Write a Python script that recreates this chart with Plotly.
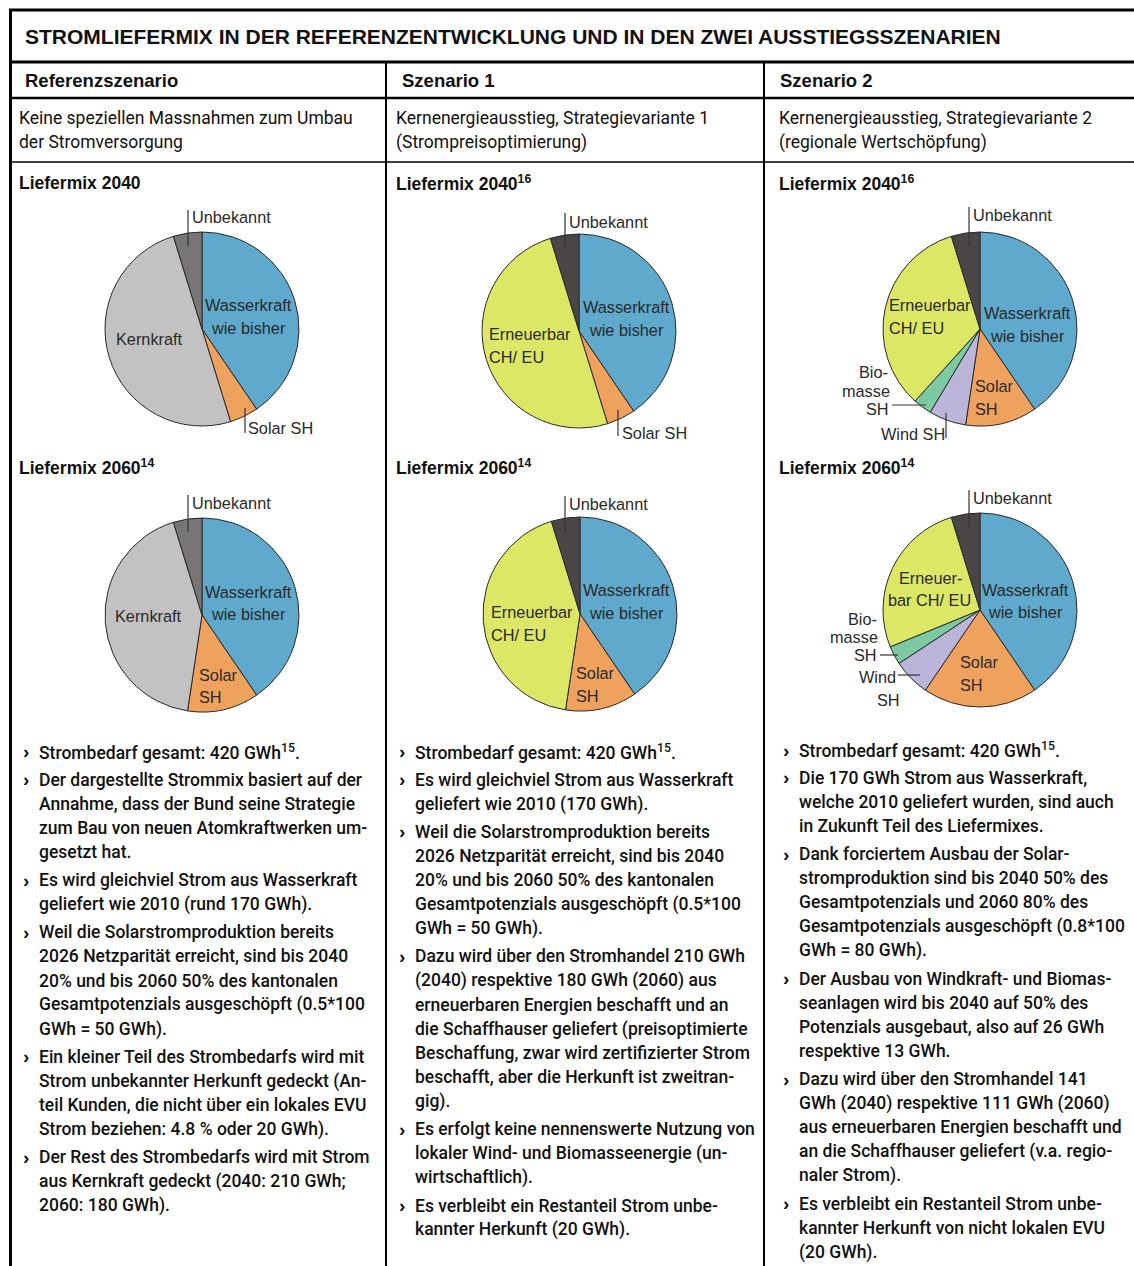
import plotly.graph_objects as go

W, H = 1134, 1266

# ---------------- data ----------------
labels_ref = ["Wasserkraft wie bisher", "Solar SH", "Kernkraft", "Unbekannt"]
ref_2040 = [170, 20, 210, 20]
ref_2060 = [170, 50, 180, 20]

labels_s1 = ["Wasserkraft wie bisher", "Solar SH", "Erneuerbar CH/EU", "Unbekannt"]
s1_2040 = [170, 20, 210, 20]
s1_2060 = [170, 50, 180, 20]

labels_s2 = ["Wasserkraft wie bisher", "Solar SH", "Wind SH", "Biomasse SH", "Erneuerbar CH/EU", "Unbekannt"]
s2_2040 = [170, 50, 26, 13, 141, 20]
s2_2060 = [170, 80, 26, 13, 111, 20]

title = "STROMLIEFERMIX IN DER REFERENZENTWICKLUNG UND IN DEN ZWEI AUSSTIEGSSZENARIEN"
col_heads = ["Referenzszenario", "Szenario 1", "Szenario 2"]
col_desc = [
    ["Keine speziellen Massnahmen zum Umbau", "der Stromversorgung"],
    ["Kernenergieausstieg, Strategievariante 1", "(Strompreisoptimierung)"],
    ["Kernenergieausstieg, Strategievariante 2", "(regionale Wertschöpfung)"],
]
mix_heads_2040 = ["Liefermix 2040", "Liefermix 2040<sup>16</sup>", "Liefermix 2040<sup>16</sup>"]
mix_heads_2060 = ["Liefermix 2060<sup>14</sup>", "Liefermix 2060<sup>14</sup>", "Liefermix 2060<sup>14</sup>"]

bullets = [
    [
        ["Strombedarf gesamt: 420 GWh<sup>15</sup>."],
        ["Der dargestellte Strommix basiert auf der", "Annahme, dass der Bund seine Strategie",
         "zum Bau von neuen Atomkraftwerken um-", "gesetzt hat."],
        ["Es wird gleichviel Strom aus Wasserkraft", "geliefert wie 2010 (rund 170 GWh)."],
        ["Weil die Solarstromproduktion bereits", "2026 Netzparität erreicht, sind bis 2040",
         "20% und bis 2060 50% des kantonalen", "Gesamtpotenzials ausgeschöpft (0.5*100", "GWh = 50 GWh)."],
        ["Ein kleiner Teil des Strombedarfs wird mit", "Strom unbekannter Herkunft gedeckt (An-",
         "teil Kunden, die nicht über ein lokales EVU", "Strom beziehen: 4.8 % oder 20 GWh)."],
        ["Der Rest des Strombedarfs wird mit Strom", "aus Kernkraft gedeckt (2040: 210 GWh;", "2060: 180 GWh)."],
    ],
    [
        ["Strombedarf gesamt: 420 GWh<sup>15</sup>."],
        ["Es wird gleichviel Strom aus Wasserkraft", "geliefert wie 2010 (170 GWh)."],
        ["Weil die Solarstromproduktion bereits", "2026 Netzparität erreicht, sind bis 2040",
         "20% und bis 2060 50% des kantonalen", "Gesamtpotenzials ausgeschöpft (0.5*100", "GWh = 50 GWh)."],
        ["Dazu wird über den Stromhandel 210 GWh", "(2040) respektive 180 GWh (2060) aus",
         "erneuerbaren Energien beschafft und an", "die Schaffhauser geliefert (preisoptimierte",
         "Beschaffung, zwar wird zertifizierter Strom", "beschafft, aber die Herkunft ist zweitran-", "gig)."],
        ["Es erfolgt keine nennenswerte Nutzung von", "lokaler Wind- und Biomasseenergie (un-", "wirtschaftlich)."],
        ["Es verbleibt ein Restanteil Strom unbe-", "kannter Herkunft (20 GWh)."],
    ],
    [
        ["Strombedarf gesamt: 420 GWh<sup>15</sup>."],
        ["Die 170 GWh Strom aus Wasserkraft,", "welche 2010 geliefert wurden, sind auch",
         "in Zukunft Teil des Liefermixes."],
        ["Dank forciertem Ausbau der Solar-", "stromproduktion sind bis 2040 50% des",
         "Gesamtpotenzials und 2060 80% des", "Gesamtpotenzials ausgeschöpft (0.8*100", "GWh = 80 GWh)."],
        ["Der Ausbau von Windkraft- und Biomas-", "seanlagen wird bis 2040 auf 50% des",
         "Potenzials ausgebaut, also auf 26 GWh", "respektive 13 GWh."],
        ["Dazu wird über den Stromhandel 141", "GWh (2040) respektive 111 GWh (2060)",
         "aus erneuerbaren Energien beschafft und", "an die Schaffhauser geliefert (v.a. regio-",
         "naler Strom)."],
        ["Es verbleibt ein Restanteil Strom unbe-", "kannter Herkunft von nicht lokalen EVU", "(20 GWh)."],
    ],
]

# ---------------- styles ----------------
C_WATER = "#5ea9cc"
C_SOLAR = "#efa25e"
C_KERN = "#c2c2c2"
C_UNK_REF = "#777575"
C_UNK = "#4a4646"
C_ERN = "#dde766"
C_WIND = "#bcb5da"
C_BIO = "#7dc9a2"

cols_ref = [C_WATER, C_SOLAR, C_KERN, C_UNK_REF]
cols_s1 = [C_WATER, C_SOLAR, C_ERN, C_UNK]
cols_s2 = [C_WATER, C_SOLAR, C_WIND, C_BIO, C_ERN, C_UNK]

HEAD = "Liberation Sans"
BODY = "Roboto"
LABEL = "Liberation Sans"
TXT = "#111111"
LBL = "#2a2a2a"


def px(x):
    return x / W


def py(y):
    return 1 - y / H


fig = go.Figure()


def add_pie(labels, values, colors, cx, cy, r):
    fig.add_trace(go.Pie(
        labels=labels, values=values, sort=False, direction="clockwise",
        marker=dict(colors=colors, line=dict(color="#2a2a2a", width=1)),
        textinfo="none", hoverinfo="label+value", showlegend=False,
        domain=dict(x=[px(cx - r), px(cx + r)], y=[py(cy + r), py(cy - r)]),
    ))


R = 97
add_pie(labels_ref, ref_2040, cols_ref, 202, 329, R)
add_pie(labels_ref, ref_2060, cols_ref, 202, 615, R)
add_pie(labels_s1, s1_2040, cols_s1, 579, 331, R)
add_pie(labels_s1, s1_2060, cols_s1, 580, 614, R)
add_pie(labels_s2, s2_2040, cols_s2, 980, 329, R)
add_pie(labels_s2, s2_2060, cols_s2, 980, 610, R)

shapes = []


def hline(y, x0, x1, w):
    shapes.append(dict(type="line", xref="paper", yref="paper", x0=px(x0), x1=px(x1), y0=py(y), y1=py(y),
                       line=dict(color="#000", width=w)))


def vline(x, y0, y1, w, color="#000"):
    shapes.append(dict(type="line", xref="paper", yref="paper", x0=px(x), x1=px(x), y0=py(y0), y1=py(y1),
                       line=dict(color=color, width=w)))


hline(10, 9, W + 5, 3)
vline(10.5, 9, H + 5, 3)
hline(62, 9, W + 5, 3)
hline(98, 9, W + 5, 2.5)
hline(162, 9, W + 5, 1.5)
vline(386, 62, H + 5, 2)
vline(764, 62, H + 5, 2)

# leader lines for pie labels
lead = "#333333"
for (x, y0, y1) in [(188, 210, 246), (245, 408, 433), (565, 213, 250), (618, 410, 436),
                    (969, 207, 246), (946, 413, 438),
                    (188, 495, 532), (565, 496, 533), (969, 490, 528)]:
    vline(x, y0, y1, 1.2, lead)


def hseg(y, x0, x1):
    shapes.append(dict(type="line", xref="paper", yref="paper", x0=px(x0), x1=px(x1), y0=py(y), y1=py(y),
                       line=dict(color=lead, width=1.2)))


hseg(405, 892, 926)
hseg(655, 880, 898)
hseg(675, 898, 920)

ann = []


def text(x, y, s, size, anchor="left", color=TXT, family=BODY, weight="normal"):
    ann.append(dict(xref="paper", yref="paper", x=px(x), y=py(y), text=s, showarrow=False,
                    xanchor=anchor, yanchor="middle",
                    font=dict(family=family, size=size, color=color, weight=weight)))


# title & headers
text(23, 37, title, 21, family=HEAD, weight="bold")
for xh, h in zip([23, 400, 778], col_heads):
    text(xh, 81, h, 18.5, family=HEAD, weight="bold")
for xd, d in zip([17, 394, 777], col_desc):
    text(xd, 118, d[0], 17.5, family=BODY)
    text(xd, 142, d[1], 17.5, family=BODY)
for xh, h in zip([17, 394, 777], mix_heads_2040):
    text(xh, 183, h, 17.5, family=HEAD, weight="bold")
for xh, h in zip([17, 394, 777], mix_heads_2060):
    text(xh, 467, h, 17.5, family=HEAD, weight="bold")

# pie labels
LS = 16.3
for (x, y, s, a) in [
    (190, 217, "Unbekannt", "left"), (248, 305, "Wasserkraft", "center"), (248, 328, "wie bisher", "center"),
    (149, 339, "Kernkraft", "center"), (246, 428, "Solar SH", "left"),
    (567, 222, "Unbekannt", "left"), (626, 307, "Wasserkraft", "center"), (626, 330, "wie bisher", "center"),
    (487, 334, "Erneuerbar", "left"), (487, 357, "CH/ EU", "left"), (620, 433, "Solar SH", "left"),
    (971, 215, "Unbekannt", "left"), (887, 305, "Erneuerbar", "left"), (887, 328, "CH/ EU", "left"),
    (1027, 313, "Wasserkraft", "center"), (1027, 336, "wie bisher", "center"),
    (973, 386, "Solar", "left"), (973, 409, "SH", "left"),
    (890, 372, "Bio-", "right"), (892, 391, "masse", "right"), (891, 409, "SH", "right"),
    (913, 434, "Wind SH", "center"),
    (190, 503, "Unbekannt", "left"), (248, 592, "Wasserkraft", "center"), (248, 614, "wie bisher", "center"),
    (148, 616, "Kernkraft", "center"), (197, 675, "Solar", "left"), (197, 697, "SH", "left"),
    (567, 504, "Unbekannt", "left"), (626, 590, "Wasserkraft", "center"), (626, 613, "wie bisher", "center"),
    (489, 612, "Erneuerbar", "left"), (489, 635, "CH/ EU", "left"),
    (574, 673, "Solar", "left"), (574, 696, "SH", "left"),
    (971, 498, "Unbekannt", "left"), (930, 578, "Erneuer-", "center"), (929, 600, "bar CH/ EU", "center"),
    (1025, 590, "Wasserkraft", "center"), (1025, 612, "wie bisher", "center"),
    (958, 662, "Solar", "left"), (958, 685, "SH", "left"),
    (879, 619, "Bio-", "right"), (880, 637, "masse", "right"), (879, 655, "SH", "right"),
    (898, 677, "Wind", "right"), (888, 700, "SH", "center"),
]:
    text(x, y, s, LS, anchor=a, color=LBL, family=LABEL)

# bullet text
col_x = [21, 397, 781]
start_y = [752, 752, 750]
LINE = 24.2
GAP = 3.6
BS = 17.5
for ci in range(3):
    y = start_y[ci]
    for b in bullets[ci]:
        text(col_x[ci], y, "›", 19, family=HEAD, weight="bold")
        for line in b:
            text(col_x[ci] + 16, y, line, BS, family=BODY, weight=500)
            y += LINE
        y += GAP

fig.update_layout(
    width=W, height=H, margin=dict(l=0, r=0, t=0, b=0),
    paper_bgcolor="white", plot_bgcolor="white",
    shapes=shapes, annotations=ann,
)
fig.write_html("out.html")
